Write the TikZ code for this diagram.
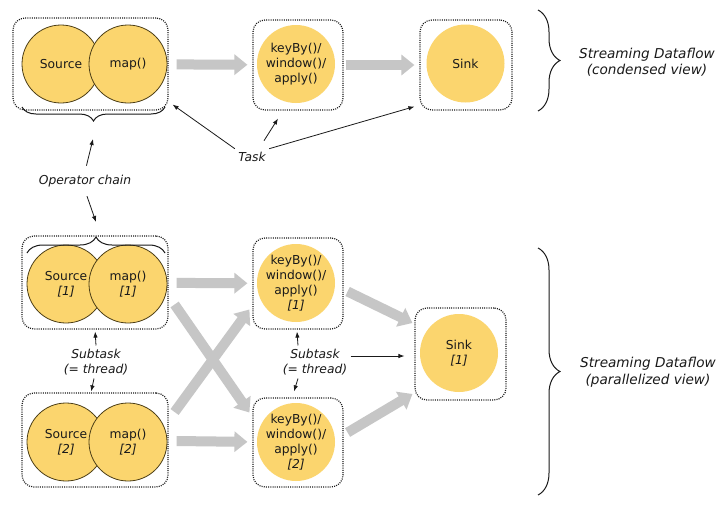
\documentclass[tikz,border=0pt]{standalone}
\usepackage{fontspec}
\setmainfont{DejaVu Sans}
\usetikzlibrary{arrows.meta,calc,decorations.pathreplacing}
\definecolor{opyellow}{HTML}{FBD56E}
\definecolor{opedge}{HTML}{4D3F17}
\definecolor{flowgray}{HTML}{C6C6C6}
\definecolor{ink}{HTML}{1A1A1A}
\tikzset{
	op/.style={circle, fill=opyellow, minimum size=78pt, inner sep=-3pt, align=center, text=ink, font=\fontsize{12.3}{15}\selectfont},
	opline/.style={op, draw=opedge, line width=0.8pt},
	taskbox/.style={draw=ink, dash pattern=on 1pt off 1.2pt, line width=1.2pt, rounded corners=12pt, inner sep=0pt},
	flow/.style={draw=flowgray, line width=10pt, -{Triangle[length=13pt,width=20pt]}},
	lbl/.style={align=center, text=ink, font=\fontsize{12.3}{15}\selectfont\itshape},
	viewlbl/.style={lbl, font=\fontsize{13.6}{16.5}\selectfont\itshape},
	pointer/.style={draw=ink, line width=0.8pt, -{Latex[length=6pt,width=4.5pt]}},
	bracket/.style={draw=ink, line width=1pt, decorate, decoration={brace, amplitude=#1}},
	bracketflip/.style={bracket=#1, decoration={mirror}},
}
\begin{document}
\begin{tikzpicture}[x=1pt, y=-1pt]
	\useasboundingbox[fill=white] (0,0) rectangle (720,509);
	% condensed view
	\node[taskbox, minimum width=155pt, minimum height=92pt] (chain) at (90.5,64) {};
	\node[opline] (src) at (61,64) {Source};
	\node[opline] (map) at (128,64) {map()};
	\node[taskbox, minimum width=90pt, minimum height=90pt] (win) at (298,65) {};
	\node[op] (winop) at (296,64) {keyBy()/\\window()/\\apply()};
	\node[taskbox, minimum width=92pt, minimum height=90pt] (sink) at (466,65) {};
	\node[op] (sinkop) at (465.5,63.5) {Sink};
	\draw[flow, shorten <=8pt, shorten >=5pt] (chain) -- (win);
	\draw[flow, shorten <=2pt, shorten >=5pt] (win) -- (sink);
	\draw[bracketflip=14pt] (22,107) -- (165,107);
	\draw[bracket=22pt] (538,10) -- (538,111);
	\node[viewlbl] (condensed) at (647,62) {Streaming Dataflow\\(condensed view)};

	% labels between the views
	\node[lbl] (task) at (252,157) {Task};
	\draw[pointer] (task.north west) -- ([xshift=4pt,yshift=6pt]chain.south east);
	\draw[pointer] ([xshift=12pt,yshift=8pt]task.north) -- ([xshift=-20pt,yshift=-8pt]win.south);
	\draw[pointer] (task.north east) -- ([xshift=-5pt,yshift=4pt]sink.south west);
	\node[lbl] (opchain) at (85,181) {Operator chain};
	\coordinate (chaintop) at (93,139);
	\coordinate (chainbot) at (96,222);
	\draw[pointer, shorten <=6pt] (opchain.north) -- (chaintop);
	\draw[pointer, shorten <=6pt] (opchain.south) -- (chainbot);

	% parallelized view
	\node[taskbox, minimum width=146pt, minimum height=93pt] (chainA) at (95,282.5) {};
	\node[opline] (srcA) at (66,284) {Source\\\textit{[1]}};
	\node[opline] (mapA) at (128,284) {map()\\\textit{[1]}};
	\draw[bracket=16pt] (27,253) -- (165,253);
	\node[taskbox, minimum width=146pt, minimum height=94pt] (chainB) at (95,440) {};
	\node[opline] (srcB) at (66,442) {Source\\\textit{[2]}};
	\node[opline] (mapB) at (128,442) {map()\\\textit{[2]}};
	\node[taskbox, minimum width=90pt, minimum height=91pt] (winA) at (298,283.5) {};
	\node[op] (winopA) at (296,283) {keyBy()/\\window()/\\apply()\\\textit{[1]}};
	\node[taskbox, minimum width=90pt, minimum height=89pt] (winB) at (298,442.5) {};
	\node[op] (winopB) at (296,442) {keyBy()/\\window()/\\apply()\\\textit{[2]}};
	\node[taskbox, minimum width=91pt, minimum height=92pt] (sinkA) at (460.5,354) {};
	\node[op] (sinkopA) at (459,353) {Sink\\\textit{[1]}};

	\draw[flow, shorten <=8pt, shorten >=5pt] (chainA) -- (winA);
	\draw[flow, shorten <=8pt, shorten >=5pt] (chainB) -- (winB);
	\draw[flow] ($(chainA.east)+(6,22)$) -- ($(winB.west)+(-3,-30)$);
	\draw[flow] ($(chainB.east)+(6,-28)$) -- ($(winA.west)+(-3,26)$);
	\draw[flow] ($(winA.east)+(4,8)$) -- ($(sinkA.west)+(-2,-31)$);
	\draw[flow] ($(winB.east)+(4,-10)$) -- ($(sinkA.west)+(-2,40)$);

	\node[lbl] (subA) at (96,362) {Subtask\\(= thread)};
	\draw[pointer, shorten >=2pt] (subA.north) -- (chainA.south);
	\draw[pointer, shorten >=1pt] ([xshift=-2pt]subA.south) -- ([xshift=-4pt]chainB.north);
	\node[lbl] (subB) at (315,362) {Subtask\\(= thread)};
	\draw[pointer] ([xshift=-17pt]subB.north) -- ([xshift=-1pt,yshift=-2pt]winA.south);
	\draw[pointer] ([xshift=-17pt]subB.south) -- ([xshift=-4pt,yshift=6pt]winB.north);
	\draw[pointer] ([yshift=6pt]subB.east) -- ($(sinkA.west)+(-10,2)$);

	\draw[bracket=22pt] (538,248) -- (538,495);
	\node[viewlbl] (parallel) at (648,372) {Streaming Dataflow\\(parallelized view)};
\end{tikzpicture}
\end{document}
